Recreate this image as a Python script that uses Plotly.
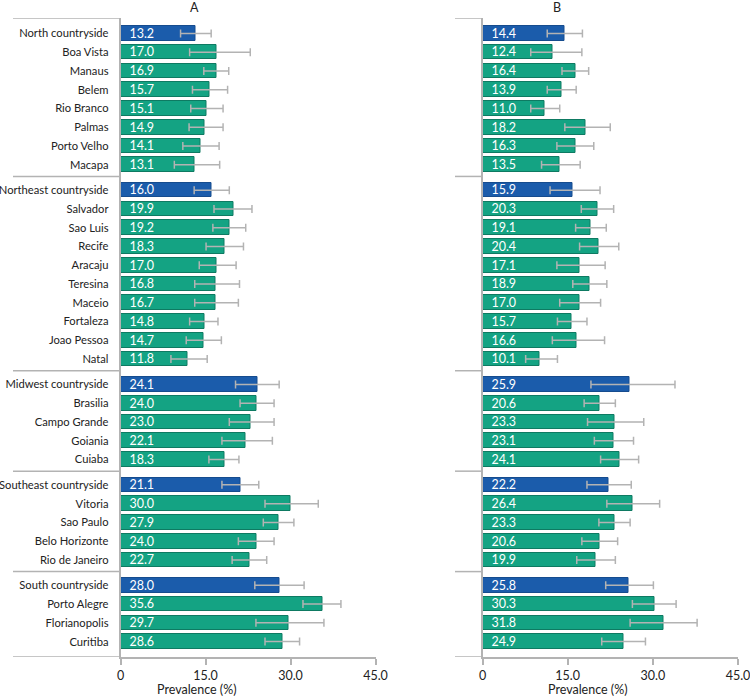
import plotly.graph_objects as go

W, H = 750, 699


def px(x):
    return x / W


def py(y):
    return 1 - y / H


# ---------------- data ----------------
labels = ["North countryside", "Boa Vista", "Manaus", "Belem", "Rio Branco", "Palmas", "Porto Velho", "Macapa",
          "Northeast countryside", "Salvador", "Sao Luis", "Recife", "Aracaju", "Teresina", "Maceio", "Fortaleza", "Joao Pessoa", "Natal",
          "Midwest countryside", "Brasilia", "Campo Grande", "Goiania", "Cuiaba",
          "Southeast countryside", "Vitoria", "Sao Paulo", "Belo Horizonte", "Rio de Janeiro",
          "South countryside", "Porto Alegre", "Florianopolis", "Curitiba"]
group_sizes = [8, 10, 5, 5, 4]

val_A = [13.2, 17.0, 16.9, 15.7, 15.1, 14.9, 14.1, 13.1,
         16.0, 19.9, 19.2, 18.3, 17.0, 16.8, 16.7, 14.8, 14.7, 11.8,
         24.1, 24.0, 23.0, 22.1, 18.3,
         21.1, 30.0, 27.9, 24.0, 22.7,
         28.0, 35.6, 29.7, 28.6]
low_A = [10.6, 12.2, 14.7, 12.7, 12.4, 12.1, 11.0, 9.5,
         13.0, 16.5, 16.3, 15.1, 13.9, 13.1, 13.1, 12.2, 11.6, 8.9,
         20.3, 21.1, 19.2, 17.9, 15.6,
         17.9, 25.5, 25.2, 20.8, 19.7,
         23.7, 32.2, 23.9, 25.5]
up_A = [16.0, 22.9, 19.1, 18.9, 18.1, 18.1, 17.4, 17.5,
        19.2, 23.2, 22.1, 21.7, 20.4, 21.0, 20.8, 17.2, 17.8, 15.3,
        28.0, 27.1, 27.1, 26.8, 20.9,
        24.4, 34.9, 30.6, 27.1, 25.8,
        32.4, 38.9, 35.9, 31.6]

val_B = [14.4, 12.4, 16.4, 13.9, 11.0, 18.2, 16.3, 13.5,
         15.9, 20.3, 19.1, 20.4, 17.1, 18.9, 17.0, 15.7, 16.6, 10.1,
         25.9, 20.6, 23.3, 23.1, 24.1,
         22.2, 26.4, 23.3, 20.6, 19.9,
         25.8, 30.3, 31.8, 24.9]
low_B = [11.4, 8.5, 14.0, 11.4, 8.5, 14.5, 13.1, 10.4,
         11.9, 17.4, 16.4, 17.1, 13.1, 15.9, 13.6, 13.2, 12.3, 7.6,
         19.1, 17.9, 18.5, 19.7, 20.8,
         18.4, 21.9, 20.5, 17.5, 16.6,
         21.7, 26.4, 26.0, 21.0]
up_B = [17.6, 17.5, 18.7, 16.5, 13.6, 22.5, 19.6, 17.2,
        20.7, 23.1, 21.8, 24.0, 21.6, 21.9, 20.8, 18.4, 21.5, 13.2,
        33.9, 23.4, 28.4, 26.6, 27.5,
        26.2, 31.2, 26.0, 23.8, 23.4,
        30.1, 34.1, 37.8, 28.7]

x_ticks = [0, 15, 30, 45]
x_ticktext = ["0", "15.0", "30.0", "45.0"]

# ---------------- styling / layout helpers ----------------
FONT = "Lato"
TXT = "#222222"
BLUE = "#1b5cab"
GREEN = "#14a383"
GRAY = "#b3b3b3"
GAP = 0.35

positions = []
is_country = []
sep_positions = []
i = 0
for g, n in enumerate(group_sizes):
    for k in range(n):
        positions.append(i + g * GAP)
        is_country.append(k == 0)
        i += 1
    sep_positions.append(positions[-1] + 0.62)
sep_positions = sep_positions[:-1]
y_top = positions[0] - 0.82
y_bot = positions[-1] + 0.82

colors = [BLUE if c else GREEN for c in is_country]
line_colors = ["#164c8e" if c else "#0e7a62" for c in is_country]

domA = [px(120.5), px(375.5)]
domB = [px(482.5), px(738)]
ydom = [py(657), py(18)]

fig = go.Figure()


def add_panel(vals, lows, ups, xa, ya):
    fig.add_trace(go.Bar(
        x=vals, y=positions, orientation="h", xaxis=xa, yaxis=ya,
        width=0.78,
        marker=dict(color=colors, line=dict(color=line_colors, width=1)),
        text=["\u00a0\u00a0" + f"{v:.1f}" for v in vals],
        textposition="inside", insidetextanchor="start", constraintext="none",
        textfont=dict(family=FONT, size=12.5, color="white"),
        error_x=dict(type="data", symmetric=False,
                     array=[u - v for u, v in zip(ups, vals)],
                     arrayminus=[v - l for v, l in zip(vals, lows)],
                     color=GRAY, thickness=1.5, width=4),
        showlegend=False, hoverinfo="x+y",
    ))


add_panel(val_A, low_A, up_A, "x", "y")
add_panel(val_B, low_B, up_B, "x2", "y2")

axis_common = dict(range=[0, 45], tickvals=x_ticks, ticktext=x_ticktext,
                   showgrid=False, zeroline=False, showline=True, automargin=False,
                   linecolor=GRAY, linewidth=1.5, ticklabeloverflow="allow",
                   ticks="outside", ticklen=6, tickcolor=GRAY, tickwidth=1.5,
                   tickfont=dict(family=FONT, size=12.5, color=TXT))
yaxis_common = dict(range=[y_bot, y_top], showgrid=False, zeroline=False,
                    showline=True, linecolor=GRAY, linewidth=1.5, automargin=False,
                    domain=ydom, ticks="")

fig.update_layout(
    width=W, height=H, margin=dict(l=0, r=0, t=0, b=0),
    paper_bgcolor="white", plot_bgcolor="white",
    bargap=0,
    xaxis=dict(domain=domA, anchor="y", **axis_common),
    xaxis2=dict(domain=domB, anchor="y2", **axis_common),
    yaxis=dict(anchor="x", tickvals=positions, ticktext=labels,
               tickfont=dict(family=FONT, size=11.2, color=TXT),
               ticklabelstandoff=8, **yaxis_common),
    yaxis2=dict(anchor="x2", showticklabels=False, **yaxis_common),
    font=dict(family=FONT, size=12, color=TXT),
)

# separator lines left of each panel's axis
for y in [y_top] + sep_positions + [y_bot]:
    fig.add_shape(type="line", xref="paper", yref="y", x0=px(13), x1=domA[0], y0=y, y1=y,
                  line=dict(color=GRAY, width=1.5))
    fig.add_shape(type="line", xref="paper", yref="y2", x0=px(455), x1=domB[0], y0=y, y1=y,
                  line=dict(color=GRAY, width=1.5))

# panel titles and axis titles
for txt, x, y in [("A", 194, 7), ("B", 557, 7),
                  ("Prevalence (%)", 197, 689), ("Prevalence (%)", 588, 689)]:
    fig.add_annotation(text=txt, xref="paper", yref="paper", x=px(x), y=py(y),
                       xanchor="center", yanchor="middle", showarrow=False,
                       font=dict(family=FONT, size=12.5, color=TXT))

# remove the browser's default page margin so the figure fills the window exactly
fig.write_html("out.html", config={"displayModeBar": False},
               post_script="document.body.style.margin='0';")
